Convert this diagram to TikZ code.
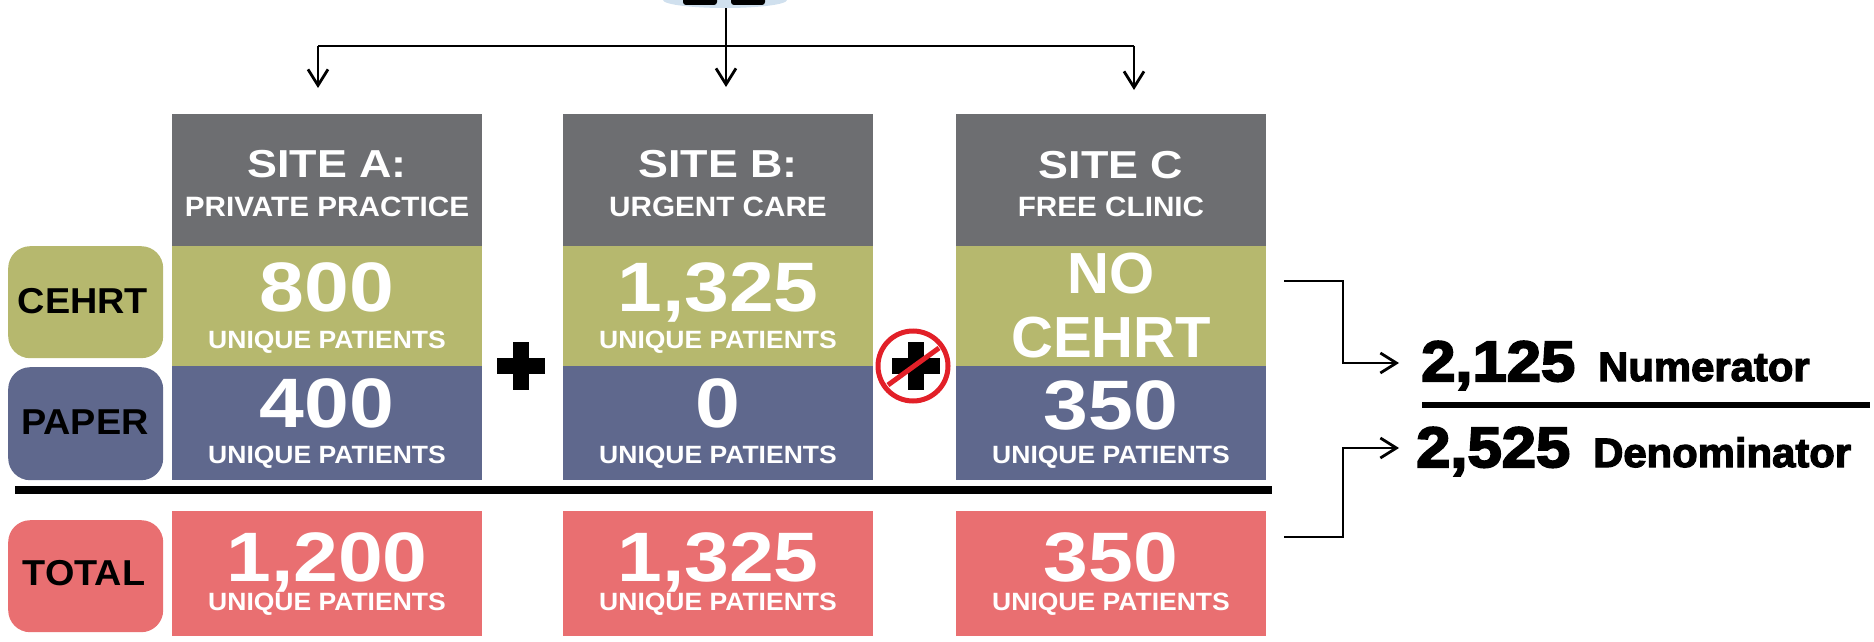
\documentclass[tikz,border=0pt]{standalone}
\usepackage{fontspec}
\setmainfont{Liberation Sans}
\newfontfamily\hdfont[FakeStretch=1.15]{Liberation Sans}
\newfontfamily\subfont[FakeStretch=1.06]{Liberation Sans}
\newfontfamily\numfont[FakeStretch=1.15]{Liberation Sans}
\newfontfamily\lblfont{Liberation Sans}
\newfontfamily\lblwfont[FakeStretch=1.05]{Liberation Sans}
\newfontfamily\heavyfont[FakeBold=3.5,FakeStretch=1.08]{Liberation Sans}
\newfontfamily\heavywfont[FakeBold=3,FakeStretch=1.02]{Liberation Sans}
\usetikzlibrary{arrows.meta,shapes.geometric}
\definecolor{hdgray}{RGB}{109,110,113}
\definecolor{olivec}{RGB}{182,184,110}
\definecolor{slatec}{RGB}{95,104,141}
\definecolor{salmonc}{RGB}{233,111,113}
\definecolor{iconblue}{RGB}{208,224,238}
\definecolor{nored}{RGB}{226,32,40}
\tikzset{
  box/.style={draw=none, inner sep=0pt, outer sep=0pt, minimum width=310pt, anchor=north west},
  lbl/.style={draw=none, rounded corners=22pt, inner sep=0pt, minimum width=155pt, anchor=north west},
  hd/.style={anchor=base, text=white, inner sep=0pt, font=\hdfont\bfseries\fontsize{39}{39}\selectfont},
  sub/.style={anchor=base, text=white, inner sep=0pt, font=\subfont\bfseries\fontsize{28}{28}\selectfont},
  num/.style={anchor=base, text=white, inner sep=0pt, font=\numfont\bfseries\fontsize{70}{70}\selectfont},
  up/.style={anchor=base, text=white, inner sep=0pt, font=\subfont\bfseries\fontsize{25}{25}\selectfont},
  big/.style={anchor=base, text=white, inner sep=0pt, font=\lblfont\bfseries\fontsize{58}{58}\selectfont},
  lbltxt/.style={anchor=base, text=black, inner sep=0pt, font=\lblwfont\bfseries\fontsize{36}{36}\selectfont},
  fracnum/.style={anchor=base west, text=black, inner sep=0pt, font=\heavyfont\bfseries\fontsize{57}{57}\selectfont},
  fracword/.style={anchor=base west, text=black, inner sep=0pt, font=\heavywfont\bfseries\fontsize{41}{41}\selectfont},
  ln/.style={line width=2.8pt, black},
  arr/.style={line width=2.8pt, black, -{Straight Barb[length=16pt,width=20pt,line width=2.8pt]}},
}
\begin{document}
\begin{tikzpicture}[x=1pt,y=-1pt]
\useasboundingbox (0,0) rectangle (1874,642);

% icon at top (cut off)
\node[ellipse, fill=iconblue, minimum width=124pt, minimum height=16pt, inner sep=0pt] (icon) at (725,0) {};
\fill[black, rounded corners=3pt] (683,-8) rectangle (717,5);
\fill[black, rounded corners=3pt] (731,-8) rectangle (765,5);

% column boxes
\node[box, fill=hdgray, minimum height=132pt] (hA) at (172,114) {};
\node[box, fill=olivec, minimum height=120pt] (gA) at (172,246) {};
\node[box, fill=slatec, minimum height=114pt] (pA) at (172,366) {};
\node[box, fill=salmonc, minimum height=125pt] (tA) at (172,511) {};

\node[box, fill=hdgray, minimum height=132pt] (hB) at (563,114) {};
\node[box, fill=olivec, minimum height=120pt] (gB) at (563,246) {};
\node[box, fill=slatec, minimum height=114pt] (pB) at (563,366) {};
\node[box, fill=salmonc, minimum height=125pt] (tB) at (563,511) {};

\node[box, fill=hdgray, minimum height=132pt] (hC) at (956,114) {};
\node[box, fill=olivec, minimum height=120pt] (gC) at (956,246) {};
\node[box, fill=slatec, minimum height=114pt] (pC) at (956,366) {};
\node[box, fill=salmonc, minimum height=125pt] (tC) at (956,511) {};

% row labels
\node[lbl, fill=olivec, minimum height=112pt] (lCehrt) at (8,246) {};
\node[lbl, fill=slatec, minimum height=113pt] (lPaper) at (8,367) {};
\node[lbl, fill=salmonc, minimum height=112pt] (lTotal) at (8,520) {};
\node[lbltxt] (tCehrt) at (83,313) {CEHRT};
\node[lbltxt] (tPaper) at (85,434) {PAPER};
\node[lbltxt] (tTotal) at (84,585) {TOTAL};

% headers
\node[hd] (sA) at (327,177) {SITE A:};
\node[sub] (sA2) at (327,216) {PRIVATE PRACTICE};
\node[hd] (sB) at (718,177) {SITE B:};
\node[sub] (sB2) at (718,216) {URGENT CARE};
\node[hd] (sC) at (1111,178) {SITE C};
\node[sub] (sC2) at (1111,216) {FREE CLINIC};

% numbers
\node[num] (nA1) at (327,311) {800};
\node[up] (uA1) at (327,348) {UNIQUE PATIENTS};
\node[num] (nA2) at (327,427) {400};
\node[up] (uA2) at (327,463) {UNIQUE PATIENTS};
\node[num] (nA3) at (327,581) {1,200};
\node[up] (uA3) at (327,610) {UNIQUE PATIENTS};

\node[num] (nB1) at (718,311) {1,325};
\node[up] (uB1) at (718,348) {UNIQUE PATIENTS};
\node[num] (nB2) at (718,427) {0};
\node[up] (uB2) at (718,463) {UNIQUE PATIENTS};
\node[num] (nB3) at (718,581) {1,325};
\node[up] (uB3) at (718,610) {UNIQUE PATIENTS};

\node[big] (nC1a) at (1111,293) {NO};
\node[big] (nC1b) at (1111,357) {CEHRT};
\node[num] (nC2) at (1111,429) {350};
\node[up] (uC2) at (1111,463) {UNIQUE PATIENTS};
\node[num] (nC3) at (1111,581) {350};
\node[up] (uC3) at (1111,610) {UNIQUE PATIENTS};

% plus sign
\fill[black] (497,358) rectangle (545,374);
\fill[black] (513,342) rectangle (529,390);
% no-plus sign
\fill[black] (892,358) rectangle (940,374);
\fill[black] (908,342) rectangle (924,390);
\draw[nored, line width=5pt] (913,366) circle[radius=35pt];
\draw[nored, line width=5pt] (888,385) -- (939,348);

% separator
\draw[line width=8pt] (15,490) -- (1272,490);

% top distribution
\coordinate (jA) at (318,46);
\coordinate (jC) at (1134,46);
\coordinate (aA) at (318,88);
\coordinate (aB) at (726,87);
\coordinate (aC) at (1134,90);
\draw[ln] (jA) -- (jC);
\draw[arr] (jA) -- (aA);
\draw[arr] (jC) -- (aC);
\draw[arr] ([xshift=1pt]icon.south) -- (aB);

% fraction
\node[fracnum] (num1) at (1421,381) {2,125};
\node[fracword] (numw) at (1598,381) {Numerator};
\node[fracnum] (den1) at (1416,467) {2,525};
\node[fracword] (denw) at (1593,467) {Denominator};
\draw[line width=5.5pt] (1422,405) -- (1870,405);

\coordinate (b1) at (1284,281);
\coordinate (b2) at (1284,537);
\draw[arr] (b1) -- (1343,281) -- (1343,363) -- ([xshift=-22pt]num1.west |- 0,363);
\draw[arr] (b2) -- (1343,537) -- (1343,448) -- ([xshift=-17pt]den1.west |- 0,448);
\end{tikzpicture}
\end{document}
